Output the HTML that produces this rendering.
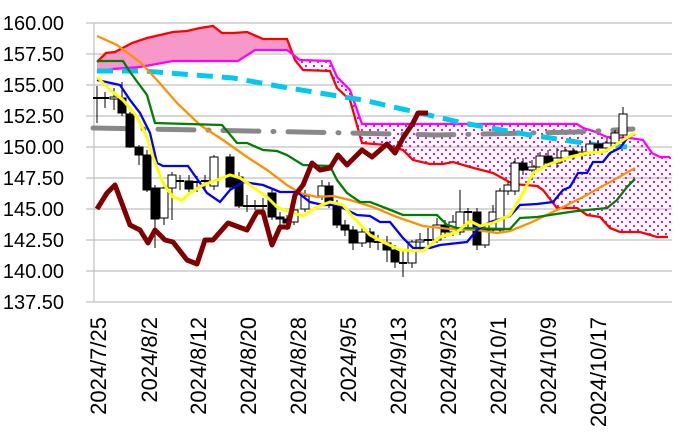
<!DOCTYPE html>
<html><head><meta charset="utf-8"><style>
html,body{margin:0;padding:0;background:#fff;}
svg{display:block;font-family:"Liberation Sans",sans-serif;}
</style></head><body>
<svg width="686" height="439" viewBox="0 0 686 439" xmlns="http://www.w3.org/2000/svg">
<defs>
<pattern id="dots" width="8" height="8" patternUnits="userSpaceOnUse">
<rect x="1" y="1" width="2" height="2" fill="#ff00ff"/>
<rect x="5" y="5" width="2" height="2" fill="#ff00ff"/>
</pattern>
</defs>
<g stroke="#c0c0c0" stroke-width="1.2">
<line x1="86" y1="23" x2="672" y2="23"/><line x1="86" y1="54" x2="672" y2="54"/>
<line x1="86" y1="85" x2="672" y2="85"/><line x1="86" y1="116" x2="672" y2="116"/>
<line x1="86" y1="147" x2="672" y2="147"/><line x1="86" y1="178" x2="672" y2="178"/>
<line x1="86" y1="209" x2="672" y2="209"/><line x1="86" y1="240" x2="672" y2="240"/>
<line x1="86" y1="271" x2="672" y2="271"/><line x1="86" y1="302" x2="672" y2="302"/>
<line x1="94" y1="23" x2="94" y2="302"/>
</g>
<g font-size="20" text-anchor="end" fill="#000">
<text x="64" y="30">160.00</text><text x="64" y="61">157.50</text><text x="64" y="92">155.00</text>
<text x="64" y="123">152.50</text><text x="64" y="154">150.00</text><text x="64" y="185">147.50</text>
<text x="64" y="216">145.00</text><text x="64" y="247">142.50</text><text x="64" y="278">140.00</text>
<text x="64" y="309">137.50</text>
</g>
<g font-size="22" text-anchor="end" fill="#000">
<text transform="translate(106,317) rotate(-90)">2024/7/25</text>
<text transform="translate(157,317) rotate(-90)">2024/8/2</text>
<text transform="translate(206,317) rotate(-90)">2024/8/12</text>
<text transform="translate(256,317) rotate(-90)">2024/8/20</text>
<text transform="translate(306,317) rotate(-90)">2024/8/28</text>
<text transform="translate(356,317) rotate(-90)">2024/9/5</text>
<text transform="translate(406,317) rotate(-90)">2024/9/13</text>
<text transform="translate(456,317) rotate(-90)">2024/9/23</text>
<text transform="translate(506,317) rotate(-90)">2024/10/1</text>
<text transform="translate(556,317) rotate(-90)">2024/10/9</text>
<text transform="translate(606,317) rotate(-90)">2024/10/17</text>
</g>
<polygon fill="#f799c8" points="97,62 106,53 115,52 132,43 147,38 160,35 173,32 187,31 200,28 213,26 222,33 233,33 247,32 263,39 287,39 295,60 300,60 287,50 255,50 238,61 173,61 140,67 113,69 97,72"/>
<polygon fill="url(#dots)" points="295,60 303,70 330,71 337,88 350,100 362,143 387,145 403,150 413,160 430,164 443,164 453,162 470,167 493,173 513,184 537,186 543,190 557,208 577,208 587,215 600,217 610,228 620,232 640,232 657,237 672,237 672,157 660,157 652,153 643,140 630,138 607,137 593,131 583,128 577,124 362,124 350,90 337,77 330,61 300,60"/>
<polyline fill="none" stroke="#ff0000" stroke-width="2.3" points="97,62 106,53 115,52 132,43 147,38 160,35 173,32 187,31 200,28 213,26 222,33 233,33 247,32 263,39 287,39 295,60 303,70 330,71 337,88 350,100 362,143 387,145 403,150 413,160 430,164 443,164 453,162 470,167 493,173 513,184 537,186 543,190 557,208 577,208 587,215 600,217 610,228 620,232 640,232 657,237 668,237"/>
<polyline fill="none" stroke="#ff00ff" stroke-width="2.3" points="97,72 113,69 140,67 173,61 238,61 255,50 287,50 300,60 330,61 337,77 350,90 362,124 577,124 583,128 593,131 607,137 630,138 643,140 652,153 660,157 670,157"/>
<polyline fill="none" stroke="#888" stroke-width="5" stroke-linecap="round" stroke-dasharray="36 14 1 14" points="93,128 200,130 350,133 437,135 577,132 633,129"/>
<polyline fill="none" stroke="#00c8f0" stroke-width="5" stroke-dasharray="16 9" points="97,71 143,71 233,78 283,87 350,98 363,100 463,123 530,135 597,145 627,147"/>
<g stroke="#000" stroke-width="1" id="candles"></g>
<polyline fill="none" stroke="#ff9000" stroke-width="2.3" points="97,36 117,45 140,62 157,80 177,103 200,125 223,140 247,157 267,170 287,185 300,193 317,197 333,196 350,200 373,207 397,217 423,226 450,229 477,230 497,233 510,231 530,223 557,210 583,197 610,182 635,168"/>
<polyline fill="none" stroke="#008000" stroke-width="2.3" points="97,61 123,61 130,72 147,95 155,123 222,125 237,143 247,143 263,150 277,151 287,155 303,165 330,166 337,180 347,193 360,202 370,202 383,207 403,215 437,215 447,225 457,228 510,229 520,218 537,217 563,213 577,211 597,209 607,208 617,200 627,187 635,179"/>
<polyline fill="none" stroke="#0000ff" stroke-width="2.3" points="97,80 120,85 130,100 140,113 150,133 157,163 163,166 188,166 200,183 207,193 220,202 230,190 243,182 263,185 280,192 297,192 310,202 323,205 337,205 343,208 357,215 370,216 380,222 390,222 403,238 413,248 430,248 440,245 467,242 477,230 490,222 510,216 520,205 537,204 553,202 563,190 570,187 578,173 587,173 593,162 603,162 610,153 620,148 628,137 635,134"/>
<polyline fill="none" stroke="#ffff00" stroke-width="3" points="97,77 110,90 123,100 137,117 147,137 153,157 163,183 173,197 182,200 190,193 203,185 217,180 230,175 240,178 253,187 267,197 277,207 287,211 303,216 317,207 330,202 343,205 353,217 370,235 383,242 400,250 423,251 440,237 457,232 470,221 480,226 493,223 510,215 523,193 533,173 547,165 570,157 587,153 603,152 613,147 623,140 635,133"/>
<polyline fill="none" stroke="#800000" stroke-width="5" stroke-linejoin="round" points="97,209 107,193 115,185 130,225 140,230 148,243 155,230 165,240 173,242 187,260 197,264 205,240 213,240 228,223 247,230 257,212 263,212 272,245 280,227 288,227 295,195 303,185 312,163 320,170 330,168 338,155 347,165 362,150 372,157 387,144 395,153 403,138 413,123 418,113 428,113"/>
</svg>
<script>
var c=[[97,98,98,86,123],[105,98,98,92,108],[114,99,97,88,110],[122,98,113,82,116],[130,114,147,112,148],[139,147,155,145,165],[147,155,190,150,192],[155,188,219,185,248],[164,218,188,182,225],[172,188,175,172,220],[180,181,181,175,190],[189,181,189,175,192],[197,182,182,176,192],[205,182,181,175,190],[214,186,157,155,190],[230,157,187,154,190],[239,177,206,172,208],[247,206,206,195,212],[255,206,206,200,210],[263,206,206,198,214],[272,193,217,190,220],[280,217,219,212,225],[287,219,223,215,230],[294,222,210,205,225],[305,209,196,190,212],[322,196,186,180,200],[329,186,205,182,208],[337,205,225,200,228],[345,225,230,220,236],[353,230,243,226,250],[362,243,232,228,247],[370,232,242,228,248],[378,242,243,235,250],[387,243,250,236,262],[395,250,262,245,268],[403,263,263,250,277],[412,263,242,240,268],[420,242,240,233,250],[428,240,240,228,246],[437,240,225,218,243],[445,225,232,220,238],[453,232,222,215,236],[460,232,212,190,235],[468,212,212,208,230],[477,212,245,208,250],[485,245,230,225,248],[493,230,212,205,232],[500,230,191,188,233],[508,191,185,182,195],[515,191,163,158,195],[523,163,170,158,175],[532,170,167,160,180],[540,167,156,152,170],[548,156,163,150,167],[557,163,158,148,168],[565,158,151,147,162],[573,151,155,148,160],[582,155,152,146,160],[590,152,144,140,156],[598,144,148,140,152],[607,148,143,138,152],[615,143,133,130,146],[623,135,114,107,138]];
var g=document.getElementById('candles'),h='';
c.forEach(function(d){var x=d[0],o=d[1],cl=d[2],hi=d[3],lo=d[4];var t=Math.min(o,cl),b=Math.max(o,cl);
h+='<line x1="'+x+'" y1="'+hi+'" x2="'+x+'" y2="'+lo+'"/>';
if(b-t<1.5){h+='<line x1="'+(x-4)+'" y1="'+t+'" x2="'+(x+4)+'" y2="'+t+'" stroke-width="2"/>';}
else h+='<rect x="'+(x-4)+'" y="'+t+'" width="8" height="'+(b-t)+'" fill="'+(cl>o?'#000':'#fff')+'"/>';});
g.innerHTML=h;
</script>
</body></html>
